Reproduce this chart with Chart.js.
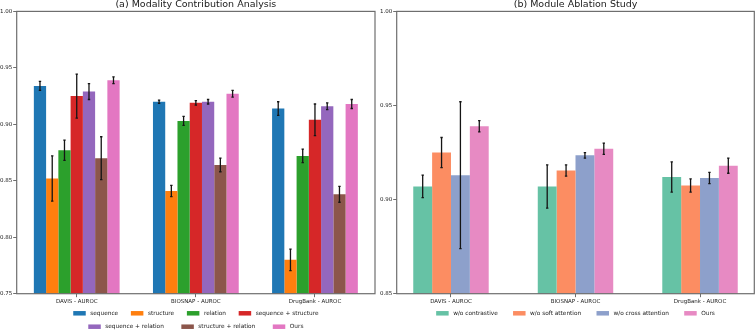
<!DOCTYPE html>
<html>
<head>
    <title>Modality Contribution / Module Ablation</title>
    <script src="https://cdn.jsdelivr.net/npm/chart.js"></script>
    <style>
        html, body {
            margin: 0;
            padding: 0;
            background: #ffffff;
        }
        body {
            width: 755px;
            height: 331px;
            position: relative;
            overflow: hidden;
        }
        .panel {
            position: absolute;
            top: 0;
        }
        #left-panel { left: 0; }
        #right-panel { left: 378px; }
    </style>
</head>
<body>
    <div class="panel" id="left-panel"><canvas id="modality-chart" width="379" height="331"></canvas></div>
    <div class="panel" id="right-panel"><canvas id="ablation-chart" width="377" height="331"></canvas></div>

    <script>
        // categories shared by both panels
        const categories = ['DAVIS - AUROC', 'BIOSNAP - AUROC', 'DrugBank - AUROC'];

        // (a) modality contribution: mean AUROC and error per dataset
        const modalityLabels = ['sequence', 'structure', 'relation', 'sequence + structure',
                                'sequence + relation', 'structure + relation', 'Ours'];
        const seqVals       = [0.934, 0.920, 0.914];
        const seqErr        = [0.004, 0.0015, 0.006];
        const structVals    = [0.852, 0.841, 0.780];
        const structErr     = [0.020, 0.005, 0.0095];
        const relVals       = [0.877, 0.903, 0.872];
        const relErr        = [0.009, 0.004, 0.006];
        const seqStructVals = [0.925, 0.919, 0.904];
        const seqStructErr  = [0.0195, 0.002, 0.014];
        const seqRelVals    = [0.929, 0.920, 0.916];
        const seqRelErr     = [0.007, 0.002, 0.003];
        const structRelVals = [0.870, 0.864, 0.838];
        const structRelErr  = [0.019, 0.006, 0.007];
        const oursVals      = [0.939, 0.927, 0.918];
        const oursErr       = [0.003, 0.003, 0.004];

        // (b) module ablation
        const ablationLabels = ['w/o contrastive', 'w/o soft attention', 'w/o cross attention', 'Ours'];
        const noContrastVals = [0.907, 0.907, 0.912];
        const noContrastErr  = [0.006, 0.0115, 0.008];
        const noSoftVals     = [0.925, 0.9155, 0.9075];
        const noSoftErr      = [0.008, 0.003, 0.0035];
        const noCrossVals    = [0.913, 0.9235, 0.9115];
        const noCrossErr     = [0.039, 0.0015, 0.003];

        const yTicksA = [0.75, 0.80, 0.85, 0.90, 0.95, 1.00];
        const yTicksB = [0.85, 0.90, 0.95, 1.00];

        const FONT = '"DejaVu Sans", sans-serif';
        const TEXT = '#1a1a1a';
        const SPINE = '#6e6e6e';

        // frame round the plot area, like matplotlib spines
        const spinePlugin = {
            id: 'spines',
            afterDatasetsDraw(chart) {
                const { ctx, chartArea: a } = chart;
                ctx.save();
                ctx.strokeStyle = SPINE;
                ctx.lineWidth = 1.2;
                ctx.strokeRect(a.left, a.top, a.right - a.left, a.bottom - a.top);
                ctx.restore();
            }
        };

        // vertical error bars with small caps
        const errorBarPlugin = {
            id: 'errorBars',
            afterDatasetsDraw(chart) {
                const ctx = chart.ctx;
                const yScale = chart.scales.y;
                ctx.save();
                ctx.strokeStyle = '#151515';
                ctx.lineWidth = 1.3;
                chart.data.datasets.forEach((ds, i) => {
                    const meta = chart.getDatasetMeta(i);
                    meta.data.forEach((bar, j) => {
                        const v = ds.data[j].y;
                        const e = ds.errors[j];
                        const top = yScale.getPixelForValue(v + e);
                        const bottom = yScale.getPixelForValue(v - e);
                        ctx.beginPath();
                        ctx.moveTo(bar.x, top);
                        ctx.lineTo(bar.x, bottom);
                        ctx.moveTo(bar.x - 1.2, top);
                        ctx.lineTo(bar.x + 1.2, top);
                        ctx.moveTo(bar.x - 1.2, bottom);
                        ctx.lineTo(bar.x + 1.2, bottom);
                        ctx.stroke();
                    });
                });
                ctx.restore();
            }
        };

        // legend laid out in centered rows under the axis
        function rowLegend(rows, rowY, gaps) {
            return {
                id: 'rowLegend',
                afterDraw(chart) {
                    const { ctx, chartArea: a } = chart;
                    const boxW = 12.5, boxH = 4.5, textGap = 4.5;
                    const cx = (a.left + a.right) / 2;
                    ctx.save();
                    ctx.font = '5.8px ' + FONT;
                    ctx.textBaseline = 'middle';
                    rows.forEach((row, r) => {
                        const widths = row.map(i => boxW + textGap + ctx.measureText(chart.data.datasets[i].label).width);
                        const total = widths.reduce((s, w) => s + w, 0) + gaps[r] * (row.length - 1);
                        let x = cx - total / 2;
                        const y = rowY[r];
                        row.forEach((i, k) => {
                            const ds = chart.data.datasets[i];
                            ctx.fillStyle = ds.backgroundColor;
                            ctx.fillRect(x, y - boxH / 2, boxW, boxH);
                            ctx.fillStyle = TEXT;
                            ctx.fillText(ds.label, x + boxW + textGap, y);
                            x += widths[k] + gaps[r];
                        });
                    });
                    ctx.restore();
                }
            };
        }

        function makeDatasets(labels, values, errors, colors) {
            return labels.map((label, i) => ({
                label: label,
                data: values[i].map((v, j) => ({ x: j, y: v })),
                errors: errors[i],
                backgroundColor: colors[i],
                borderWidth: 0
            }));
        }

        function buildChart(canvasId, opts) {
            const ctx = document.getElementById(canvasId).getContext('2d');
            return new Chart(ctx, {
                type: 'bar',
                data: { datasets: opts.datasets },
                options: {
                    responsive: false,
                    animation: false,
                    layout: { padding: { left: 0, right: opts.padRight, top: 0, bottom: 0 } },
                    datasets: {
                        bar: { barPercentage: 1.0, categoryPercentage: opts.groupWidth }
                    },
                    plugins: {
                        legend: { display: false },
                        tooltip: { enabled: false },
                        title: {
                            display: true,
                            text: opts.title,
                            fullSize: false,
                            color: TEXT,
                            font: { family: FONT, size: 9.5, weight: 'normal', lineHeight: 1.2 },
                            padding: { top: -1, bottom: 1 }
                        }
                    },
                    scales: {
                        x: {
                            type: 'linear',
                            min: opts.xMin,
                            max: opts.xMax,
                            offset: false,
                            grid: { offset: false, drawOnChartArea: false, drawTicks: true, tickLength: 3.5, color: SPINE },
                            border: { display: false },
                            afterBuildTicks: scale => {
                                scale.ticks = categories.map((c, i) => ({ value: i }));
                            },
                            afterFit: scale => { scale.height = 37.3; },
                            ticks: {
                                autoSkip: false,
                                maxRotation: 0,
                                padding: 1,
                                color: TEXT,
                                font: { family: FONT, size: 5.5 },
                                callback: v => categories[v]
                            }
                        },
                        y: {
                            min: opts.yTicks[0],
                            max: opts.yTicks[opts.yTicks.length - 1],
                            grid: { drawOnChartArea: false, drawTicks: true, tickLength: 3.5, color: SPINE },
                            border: { display: false },
                            afterBuildTicks: scale => {
                                scale.ticks = opts.yTicks.map(v => ({ value: v }));
                            },
                            afterFit: scale => { scale.width = opts.yAxisWidth; },
                            ticks: {
                                padding: 1,
                                color: TEXT,
                                font: { family: FONT, size: 5.5 },
                                callback: v => v.toFixed(2)
                            }
                        }
                    }
                },
                plugins: [spinePlugin, errorBarPlugin, rowLegend(opts.rows, opts.rowY, opts.gaps)]
            });
        }

        document.addEventListener('DOMContentLoaded', () => {
            buildChart('modality-chart', {
                title: '(a) Modality Contribution Analysis',
                datasets: makeDatasets(
                    modalityLabels,
                    [seqVals, structVals, relVals, seqStructVals, seqRelVals, structRelVals, oursVals],
                    [seqErr, structErr, relErr, seqStructErr, seqRelErr, structRelErr, oursErr],
                    ['#1f77b4', '#ff7f0e', '#2ca02c', '#d62728', '#9467bd', '#8c564b', '#e377c2']
                ),
                groupWidth: 0.72,
                xMin: -0.504,
                xMax: 2.504,
                yTicks: yTicksA,
                yAxisWidth: 16.7,
                padRight: 4,
                rows: [[0, 1, 2, 3], [4, 5, 6]],
                rowY: [313.3, 326.7],
                gaps: [12.7, 17.5]
            });

            buildChart('ablation-chart', {
                title: '(b) Module Ablation Study',
                datasets: makeDatasets(
                    ablationLabels,
                    [noContrastVals, noSoftVals, noCrossVals, oursVals],
                    [noContrastErr, noSoftErr, noCrossErr, oursErr],
                    ['#66c2a5', '#fc8d62', '#8da0cb', '#e78ac3']
                ),
                groupWidth: 0.606,
                xMin: -0.436,
                xMax: 2.436,
                yTicks: yTicksB,
                yAxisWidth: 18.7,
                padRight: 0.7,
                rows: [[0, 1, 2, 3]],
                rowY: [313.3],
                gaps: [15.3]
            });
        });
    </script>
</body>
</html>
